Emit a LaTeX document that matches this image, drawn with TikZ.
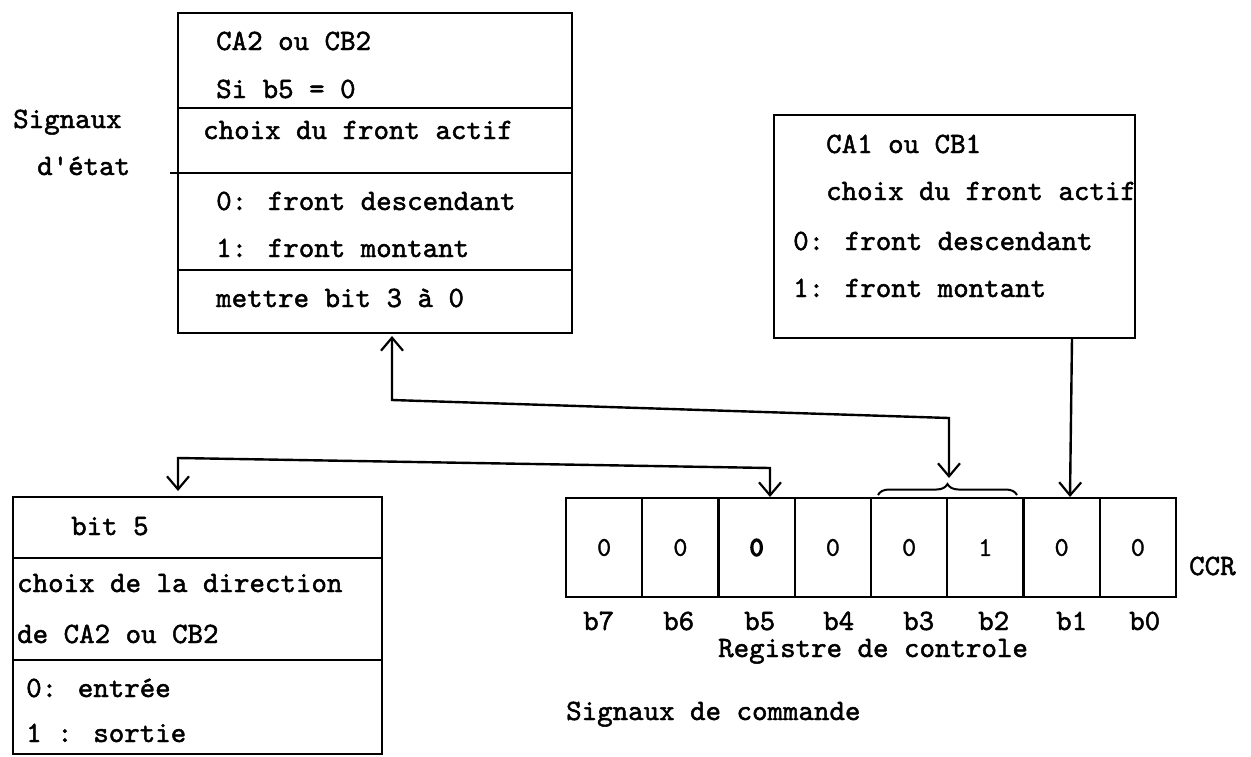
\documentclass[tikz,border=0pt]{standalone}
\usetikzlibrary{arrows.meta,decorations.pathreplacing}
\font\twf="[lmmono10-regular.otf]:embolden=1.6" at 29.5pt
\font\twd="[lmmono10-regular.otf]:embolden=1.2" at 27pt
\font\twb="[lmmono10-regular.otf]:embolden=5" at 27pt
\begin{document}
\begin{tikzpicture}[x=1pt,y=-1pt,
  line width=2.4pt,
  txt/.style={anchor=base west, inner sep=0pt, font=\twf},
  box/.style={draw, rectangle, inner sep=0pt, line width=2.4pt},
  cell/.style={draw, rectangle, inner sep=0pt, minimum width=76.25pt, minimum height=99pt, font=\twd},
  arr/.style={-{Straight Barb[length=13pt,width=22pt,line width=2.2pt]}},
  dbl/.style={{Straight Barb[length=13pt,width=22pt,line width=2.2pt]}-{Straight Barb[length=13pt,width=22pt,line width=2.2pt]}},
]
\fill[white] (0,0) rectangle (1251,756);
\useasboundingbox (0,0) rectangle (1251,756);

% ---------- box A (top left) ----------
\node[box, minimum width=394pt, minimum height=320pt] (A) at (375,173) {};
\draw (178,108) -- (572,108);
\draw (170,173) -- (572,173);
\draw (178,270) -- (572,270);
\node[txt] (a1) at (215,50) {CA2 ou CB2};
\node[txt] (a2) at (215,98) {Si b5 = 0};
\node[txt] (a3) at (202,139) {choix du front actif};
\node[txt] (a4) at (215,210) {0: front descendant};
\node[txt] (a5) at (215,257) {1: front montant};
\node[txt] (a6) at (215,307) {mettre bit 3 à 0};

\node[txt] (sig1) at (12,128) {Signaux};
\node[txt] (sig2) at (36,175) {d'état};

% ---------- box B (top right) ----------
\node[box, minimum width=361pt, minimum height=223pt] (B) at (954.5,226.5) {};
\node[txt] (b1t) at (825,153) {CA1 ou CB1};
\node[txt] (b2t) at (825,200) {choix du front actif};
\node[txt] (b3t) at (792,250) {0: front descendant};
\node[txt] (b4t) at (792,297) {1: front montant};

% ---------- box C (bottom left) ----------
\node[box, minimum width=369pt, minimum height=257pt] (C) at (197.5,625.5) {};
\draw (13,558) -- (382,558);
\draw (13,660) -- (382,660);
\node[txt] (c1) at (70,535) {bit 5};
\node[txt] (c2) at (16,592) {choix de la direction};
\node[txt] (c3) at (16,643) {de CA2 ou CB2};
\node[txt] (c4) at (25,697) {0: entrée};
\node[txt] (c5) at (25,742) {1 : sortie};

% ---------- register ----------
\foreach \i/\v [count=\k from 0] in {7/0,6/0,5/{\twb 0},4/0,3/0,2/1,1/0,0/0}
  \node[cell] (r\i) at ({566+76.25*(\k+0.5)},547.5) {\v};
\foreach \i/\x in {7/582,6/662,5/743,4/822,3/902,2/977,1/1055,0/1128}
  \node[txt] (l\i) at (\x,630) {b\i};
\node[txt] (reg) at (717,657) {Registre de controle};
\node[txt] (ccr) at (1188,575) {CCR};
\node[txt] (cmd) at (565,720) {Signaux de commande};

% brace over b3 b2
\draw[line width=2pt, decorate, decoration={brace, amplitude=11pt}] (878,495) -- (1017,495);

% ---------- connectors ----------
\coordinate (aIn) at (392,336);
\coordinate (k1) at (392,400);
\coordinate (k2) at (949,418);
\coordinate (brTip) at (949,478);
\draw[dbl] (aIn) -- (k1) -- (k2) -- (brTip);

\coordinate (cIn) at (178,491);
\coordinate (k3) at (178,458);
\coordinate (k4) at (770,468);
\coordinate (r5In) at (770,497);
\draw[dbl] (cIn) -- (k3) -- (k4) -- (r5In);

\coordinate (bOut) at (1072,338);
\coordinate (r1In) at (1070,497);
\draw[arr] (bOut) -- (r1In);
\end{tikzpicture}
\end{document}
